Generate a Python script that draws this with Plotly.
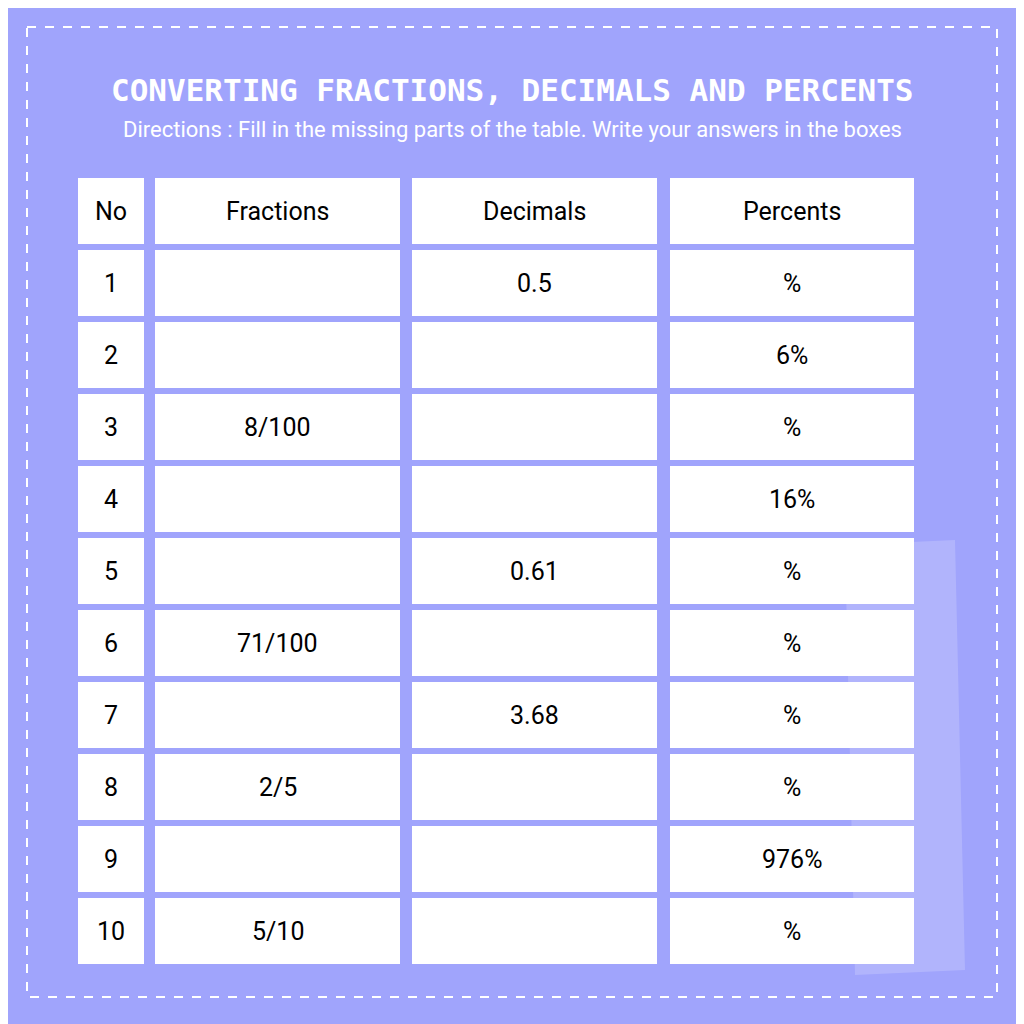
import plotly.graph_objects as go

headers = ["No", "Fractions", "Decimals", "Percents"]
numbers = [str(i) for i in range(1, 11)]
fractions = ["", "", "8/100", "", "", "71/100", "", "2/5", "", "5/10"]
decimals = ["0.5", "", "", "", "0.61", "", "3.68", "", "", ""]
percents = ["%", "6%", "%", "16%", "%", "%", "%", "%", "976%", "%"]

title = "CONVERTING FRACTIONS, DECIMALS AND PERCENTS"
subtitle = "Directions : Fill in the missing parts of the table. Write your answers in the boxes"

BG = "#a0a4fc"
FONT = "Liberation Sans Narrow, Roboto, sans-serif"
OFF = 8  # page margin compensation
col_x = [(78, 144), (155, 400), (412, 657), (670, 914)]
row_top0, row_h, row_pitch = 178, 66, 72

fig = go.Figure()
shapes = []
shapes.append(dict(type="path", path="M 845 545 L 955 540 L 965 970 L 855 975 Z",
                   fillcolor="rgba(255,255,255,0.18)", line=dict(width=0), layer="below"))
shapes.append(dict(type="rect", x0=27, x1=997, y0=27, y1=997,
                   line=dict(color="white", width=2, dash="dash"), fillcolor="rgba(0,0,0,0)"))
annotations = []
columns = [numbers, fractions, decimals, percents]
for r in range(11):
    y0 = row_top0 + r * row_pitch
    for c, (x0, x1) in enumerate(col_x):
        shapes.append(dict(type="rect", x0=x0, x1=x1, y0=y0, y1=y0 + row_h,
                           fillcolor="white", line=dict(width=0)))
        txt = headers[c] if r == 0 else columns[c][r - 1]
        if txt:
            annotations.append(dict(x=(x0 + x1) / 2, y=y0 + row_h / 2, text=txt, showarrow=False,
                                    font=dict(family=FONT, size=25, color="black")))

annotations.append(dict(x=512, y=90, text="<b>" + title + "</b>", showarrow=False,
                        font=dict(family="DejaVu Sans Mono, monospace", size=31, color="white")))
annotations.append(dict(x=512, y=129, text=subtitle, showarrow=False,
                        font=dict(family=FONT, size=22, color="white")))

fig.add_trace(go.Scatter(x=[0], y=[0], mode="markers", marker=dict(opacity=0), hoverinfo="skip"))
fig.update_layout(width=1024, height=1024, margin=dict(l=0, r=0, t=0, b=0),
                  paper_bgcolor=BG, plot_bgcolor=BG, showlegend=False,
                  shapes=shapes, annotations=annotations,
                  xaxis=dict(range=[OFF, 1024 + OFF], visible=False, fixedrange=True),
                  yaxis=dict(range=[1024 + OFF, OFF], visible=False, fixedrange=True))
fig.write_html("out.html")
